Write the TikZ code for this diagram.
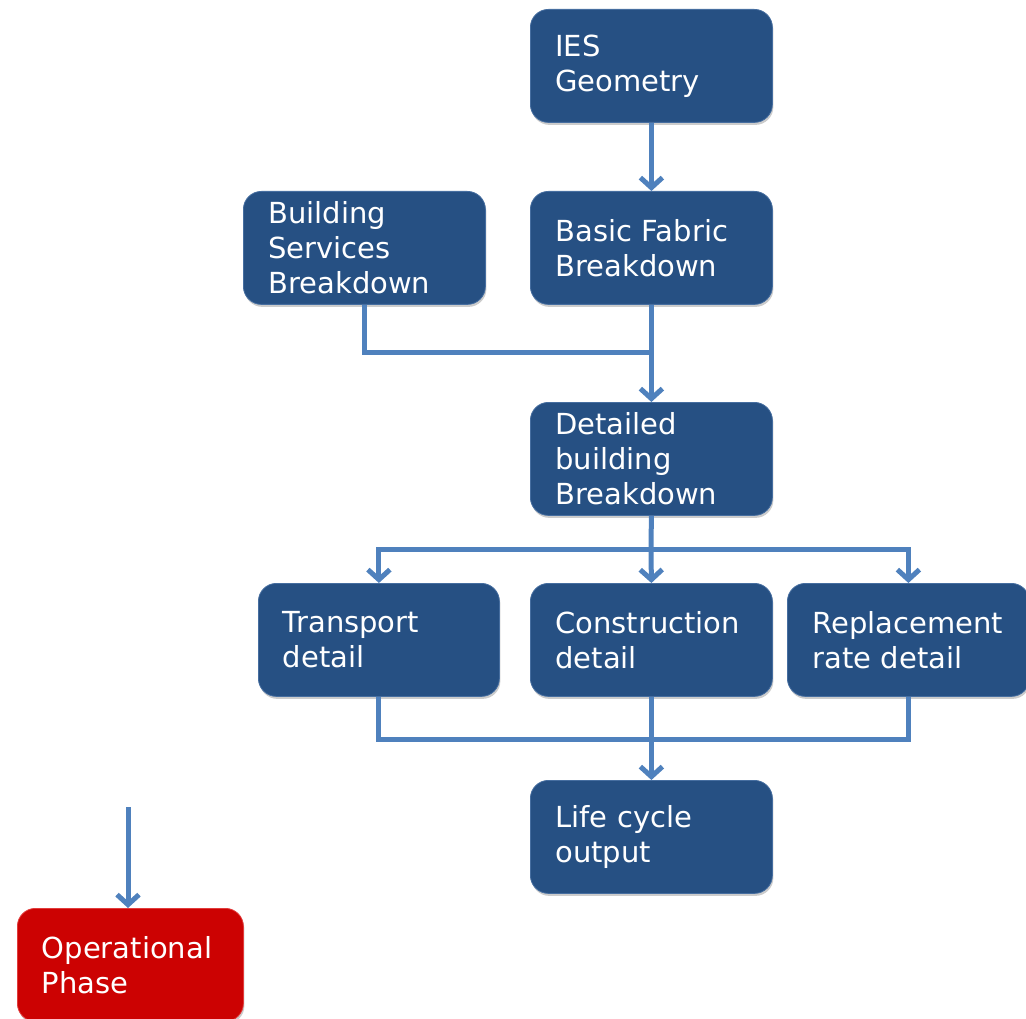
\documentclass[tikz,border=0pt]{standalone}
\usepackage{fontspec}
\setmainfont{DejaVu Sans}
\usetikzlibrary{arrows.meta,shadows}
\definecolor{boxblue}{RGB}{38,80,131}
\definecolor{boxedge}{RGB}{70,110,160}
\definecolor{boxred}{RGB}{204,2,2}
\definecolor{rededge}{RGB}{225,60,60}
\definecolor{linkblue}{RGB}{79,129,189}
\begin{document}
\begin{tikzpicture}[x=1pt,y=-1pt,
  stage/.style={rectangle, rounded corners=18pt, fill=boxblue, draw=boxedge,
    line width=0.8pt, text=white, font=\fontsize{29}{35}\selectfont,
    minimum width=242pt, minimum height=113pt, text width=192pt, align=left,
    inner sep=0pt, anchor=north west,
    drop shadow={shadow xshift=1pt, shadow yshift=-2.5pt, opacity=0.4}},
  alert/.style={stage, fill=boxred, draw=rededge},
  link/.style={draw=linkblue, line width=5pt},
  flow/.style={link, -{Straight Barb[length=10pt,width=22pt]}}]
\useasboundingbox (0,0) rectangle (1026,1019);

% process stages
\node[stage] (ies) at (530,9) {IES\\Geometry};
\node[stage] (fabric) at (530,191) {Basic Fabric\\Breakdown};
\node[stage] (services) at (243,191) {Building\\Services\\Breakdown};
\node[stage] (detailed) at (530,402) {Detailed\\building\\Breakdown};
\node[stage, minimum width=241pt] (transport) at (258,583) {Transport\\detail};
\node[stage] (construction) at (530,583) {Construction\\detail};
\node[stage] (replacement) at (787,583) {Replacement\\rate detail};
\node[stage] (lifecycle) at (530,780) {Life cycle\\output};
\node[alert, minimum width=226pt, text width=177pt] (operational) at (17,908) {Operational\\Phase};

% junction points
\coordinate (join) at (651,352);
\coordinate (split) at (651,549);
\coordinate (merge) at (651,739);
\coordinate (opin) at (128,807);

% connectors
\draw[flow] (ies) -- (fabric);
\draw[link] (services.south) |- (join);
\draw[flow] (fabric) -- (detailed);
\draw[link] (detailed.south) -- (split);
\draw[flow] (split) -| (transport.north);
\draw[flow] (split) -- (construction.north);
\draw[flow] (split) -| (replacement.north);
\draw[link] (transport.south) |- (merge);
\draw[link] (replacement.south) |- (merge);
\draw[flow] (construction) -- (lifecycle);
\draw[flow] (opin) -- (opin |- operational.north);
\end{tikzpicture}
\end{document}
